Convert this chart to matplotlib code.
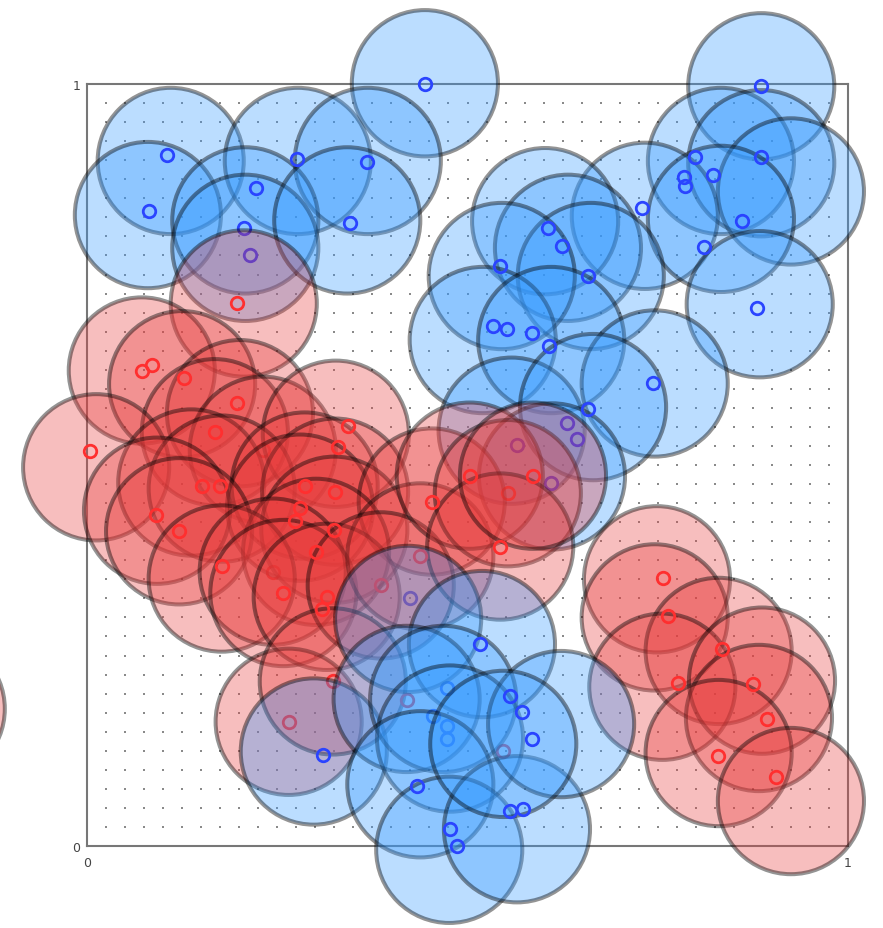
import numpy as np
import matplotlib.pyplot as plt
from matplotlib.patches import Circle

# ---------------------------------------------------------
# DATA (unit square)
# ---------------------------------------------------------

# blue neighbourhood circles, upper part (drawn first)
blue_cx_1 = [0.444, 0.886, 0.110, 0.080, 0.277, 0.369, 0.208, 0.208, 0.342, 0.833,
             0.886, 0.925, 0.733, 0.833, 0.884, 0.602, 0.632, 0.662, 0.545, 0.520,
             0.610, 0.746, 0.558, 0.665, 0.611]
blue_cy_1 = [1.001, 0.997, 0.899, 0.828, 0.899, 0.899, 0.821, 0.785, 0.821, 0.899,
             0.896, 0.859, 0.827, 0.823, 0.711, 0.820, 0.785, 0.748, 0.748, 0.664,
             0.664, 0.607, 0.545, 0.576, 0.485]

# red circles
red_cx = [0.206, 0.072, 0.125, 0.201, 0.168, 0.012, 0.231, 0.327, 0.137, 0.177,
          0.286, 0.326, 0.280, 0.092, 0.121, 0.325, 0.453, 0.301, 0.177, 0.244,
          0.258, 0.315, 0.438, 0.386, 0.503, 0.553, 0.543, 0.586, 0.265, 0.323,
          0.749, 0.746, 0.830, 0.756, 0.887, 0.883, 0.830, 0.925, -0.204]
red_cy = [0.712, 0.624, 0.606, 0.568, 0.543, 0.497, 0.520, 0.541, 0.477, 0.469,
          0.473, 0.465, 0.444, 0.440, 0.413, 0.415, 0.452, 0.386, 0.351, 0.360,
          0.332, 0.327, 0.380, 0.342, 0.486, 0.463, 0.393, 0.486, 0.163, 0.216,
          0.350, 0.300, 0.256, 0.209, 0.217, 0.168, 0.122, 0.059, 0.180]

# blue circles, bottom cluster (drawn last)
blue_cx_2 = [0.422, 0.519, 0.298, 0.420, 0.468, 0.477, 0.438, 0.476, 0.565, 0.623,
             0.547]
blue_cy_2 = [0.298, 0.265, 0.124, 0.193, 0.193, 0.141, 0.081, -0.005, 0.022, 0.160,
             0.134]

# point markers
blue_px_1 = [0.444, 0.886, 0.105, 0.081, 0.276, 0.222, 0.206, 0.214, 0.368, 0.346,
             0.729, 0.799, 0.785, 0.786, 0.823, 0.886, 0.861, 0.811, 0.880, 0.606,
             0.624, 0.543, 0.658, 0.534, 0.552, 0.585, 0.607, 0.744, 0.658, 0.631,
             0.644, 0.565, 0.610, 0.424, 0.473, 0.455, 0.473, 0.473]
blue_py_1 = [1.000, 0.997, 0.907, 0.833, 0.901, 0.863, 0.811, 0.775, 0.897, 0.817,
             0.837, 0.904, 0.878, 0.866, 0.880, 0.904, 0.820, 0.786, 0.706, 0.811,
             0.787, 0.761, 0.748, 0.682, 0.679, 0.673, 0.656, 0.607, 0.574, 0.555,
             0.534, 0.526, 0.477, 0.325, 0.208, 0.171, 0.158, 0.141]

red_px_faded = [0.231, 0.244, 0.553]
red_py_faded = [0.520, 0.360, 0.463]

red_px = [0.197, 0.072, 0.085, 0.127, 0.197, 0.168, 0.004, 0.343, 0.330, 0.151,
          0.175, 0.286, 0.326, 0.280, 0.273, 0.091, 0.121, 0.325, 0.453, 0.301,
          0.177, 0.258, 0.315, 0.309, 0.438, 0.386, 0.503, 0.543, 0.586, 0.265,
          0.323, 0.420, 0.547, 0.757, 0.763, 0.834, 0.777, 0.875, 0.894, 0.829,
          0.905]
red_py = [0.712, 0.624, 0.631, 0.614, 0.581, 0.543, 0.519, 0.551, 0.524, 0.472,
          0.472, 0.473, 0.465, 0.444, 0.426, 0.434, 0.413, 0.415, 0.452, 0.386,
          0.367, 0.332, 0.327, 0.311, 0.380, 0.342, 0.486, 0.393, 0.486, 0.163,
          0.216, 0.191, 0.125, 0.352, 0.302, 0.259, 0.214, 0.213, 0.167, 0.118,
          0.091]

blue_px_2 = [0.516, 0.310, 0.434, 0.477, 0.486, 0.556, 0.572, 0.585, 0.556, 0.573]
blue_py_2 = [0.265, 0.120, 0.079, 0.022, 0.000, 0.197, 0.176, 0.141, 0.046, 0.049]

RADIUS = 0.096

BLUE_FILL = (0.2, 0.6, 1.0, 0.33)
RED_FILL = (0.91, 0.23, 0.23, 0.33)
BLUE_MARK = '#2a44ff'
RED_MARK = '#ff2f2f'

# =========================================================
# FIGURE
# =========================================================

fig = plt.figure(figsize=(8.83, 9.29), dpi=100)
ax = fig.add_axes([87 / 883, 82 / 929, 761 / 883, 762 / 929])
ax.set_xlim(0, 1)
ax.set_ylim(0, 1)

# dotted background grid
g = np.linspace(0, 1, 41)
gx, gy = np.meshgrid(g, g)
ax.scatter(gx.ravel(), gy.ravel(), s=3, marker='s', c='#8a8a8a',
           linewidths=0, zorder=1)

z = [3]


def circles(xs, ys, fill):
    for x, y in zip(xs, ys):
        ax.add_patch(Circle((x, y), RADIUS, facecolor=fill,
                            edgecolor=(0, 0, 0, 0.42), linewidth=2.9,
                            zorder=z[0], clip_on=False))
        z[0] += 1


def points(xs, ys, col):
    ax.plot(xs, ys, 'o', ls='none', ms=9, mfc='none', mec=col, mew=2,
            zorder=z[0], clip_on=False)
    z[0] += 1


circles(blue_cx_1, blue_cy_1, BLUE_FILL)
points(blue_px_1, blue_py_1, BLUE_MARK)
points(red_px_faded, red_py_faded, RED_MARK)
circles(red_cx, red_cy, RED_FILL)
points(red_px, red_py, RED_MARK)
circles(blue_cx_2, blue_cy_2, BLUE_FILL)
points(blue_px_2, blue_py_2, BLUE_MARK)

for s in ax.spines.values():
    s.set_color('#777777')
    s.set_linewidth(1.5)
    s.set_zorder(2)

ax.set_xticks([0, 1], ['0', '1'])
ax.set_yticks([0, 1], ['0', '1'])
ax.tick_params(length=0, labelsize=9, labelcolor='#444444')
ax.tick_params(axis='x', pad=7)
ax.tick_params(axis='y', pad=5)

fig.savefig('out.png', dpi=100)
